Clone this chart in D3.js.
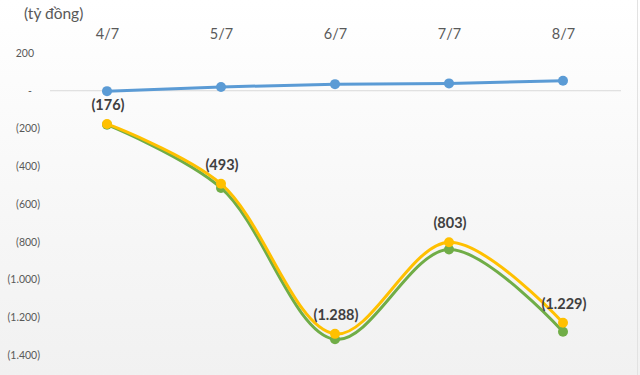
<!DOCTYPE html>
<html>
<head>
<meta charset="utf-8">
<script src="https://cdn.jsdelivr.net/npm/d3@7"></script>
<style>
  body { margin: 0; }
  svg { display: block; font-family: Lato, "Open Sans", sans-serif; }
</style>
</head>
<body>
<svg id="chart" width="640" height="375"></svg>
<script>
let days = ["4/7", "5/7", "6/7", "7/7", "8/7"];
let blueValues = [-2, 20, 35, 39, 53];
let greenValues = [-180, -515, -1317, -841, -1277];
let yellowValues = [-176, -493, -1288, -803, -1229];
let yTicks = [200, 0, -200, -400, -600, -800, -1000, -1200, -1400];

let width = 640;
let height = 375;

let svg = d3.select("#chart");

// background gradient like the excel chart area
let defs = svg.append("defs");
let grad = defs.append("linearGradient")
  .attr("id", "bg")
  .attr("x1", 0).attr("y1", 0)
  .attr("x2", 0).attr("y2", 1);
grad.append("stop").attr("offset", "0%").attr("stop-color", "#ffffff");
grad.append("stop").attr("offset", "100%").attr("stop-color", "#f1f1f1");

svg.append("rect")
  .attr("width", width)
  .attr("height", height)
  .attr("fill", "url(#bg)");

svg.append("line")
  .attr("x1", 637.5).attr("x2", 637.5)
  .attr("y1", 0).attr("y2", height)
  .attr("stroke", "#e2e2e2");

// number format: 1.288 with parentheses for negatives, "-" for zero
function fmt(v) {
  let s = d3.format(",")(Math.abs(v)).replace(/,/g, ".");
  if (v === 0) return "-";
  return v < 0 ? "(" + s + ")" : s;
}

let xScale = d3.scalePoint()
  .domain(days)
  .range([50, 620])
  .padding(0.5);

let yScale = d3.scaleLinear()
  .domain([-1400, 200])
  .range([355, 53]);

// unit label
svg.append("text")
  .attr("x", 24)
  .attr("y", 19)
  .attr("font-size", 15.5)
  .attr("fill", "#595959")
  .text("(tỷ đồng)");

// category axis on top
let xAxis = d3.axisTop(xScale).tickSize(0).tickPadding(0);
let gx = svg.append("g")
  .attr("transform", "translate(0, 39)")
  .call(xAxis);
gx.select(".domain").remove();
gx.selectAll("text")
  .attr("font-size", 14.5)
  .attr("font-family", "Lato, sans-serif")
  .attr("fill", "#595959");

// value axis
let yAxis = d3.axisLeft(yScale)
  .tickValues(yTicks)
  .tickSize(0)
  .tickPadding(0)
  .tickFormat(fmt);
let gy = svg.append("g")
  .attr("transform", "translate(40, 0)")
  .call(yAxis);
gy.select(".domain").remove();
gy.selectAll("text")
  .attr("font-size", 10.5)
  .attr("font-family", "Lato, sans-serif")
  .attr("fill", "#595959")
  .attr("dx", d => d > 0 ? -6 : (d === 0 ? -8 : 0));

// zero line
svg.append("line")
  .attr("x1", 50).attr("x2", 621)
  .attr("y1", yScale(0)).attr("y2", yScale(0))
  .attr("stroke", "#d9d9d9")
  .attr("stroke-width", 1.2);

function drawSeries(values, color, curve) {
  let line = d3.line()
    .x((d, i) => xScale(days[i]))
    .y(d => yScale(d))
    .curve(curve);
  let g = svg.append("g");
  g.append("path")
    .datum(values)
    .attr("d", line)
    .attr("fill", "none")
    .attr("stroke", color)
    .attr("stroke-width", 3);
  g.selectAll("circle")
    .data(values)
    .enter()
    .append("circle")
    .attr("cx", (d, i) => xScale(days[i]))
    .attr("cy", d => yScale(d))
    .attr("r", 5)
    .attr("fill", color);
}

drawSeries(blueValues, "#5b9bd5", d3.curveLinear);
drawSeries(greenValues, "#70ad47", d3.curveCatmullRom.alpha(0.5));
drawSeries(yellowValues, "#ffc000", d3.curveCatmullRom.alpha(0.5));

// labels for yellow series
svg.append("g")
  .selectAll("text")
  .data(yellowValues)
  .enter()
  .append("text")
  .attr("x", (d, i) => xScale(days[i]) + 1)
  .attr("y", d => yScale(d) - 14)
  .attr("text-anchor", "middle")
  .attr("font-size", 14.5)
  .attr("font-weight", "bold")
  .attr("fill", "#404040")
  .text(d => fmt(d));
</script>
</body>
</html>
